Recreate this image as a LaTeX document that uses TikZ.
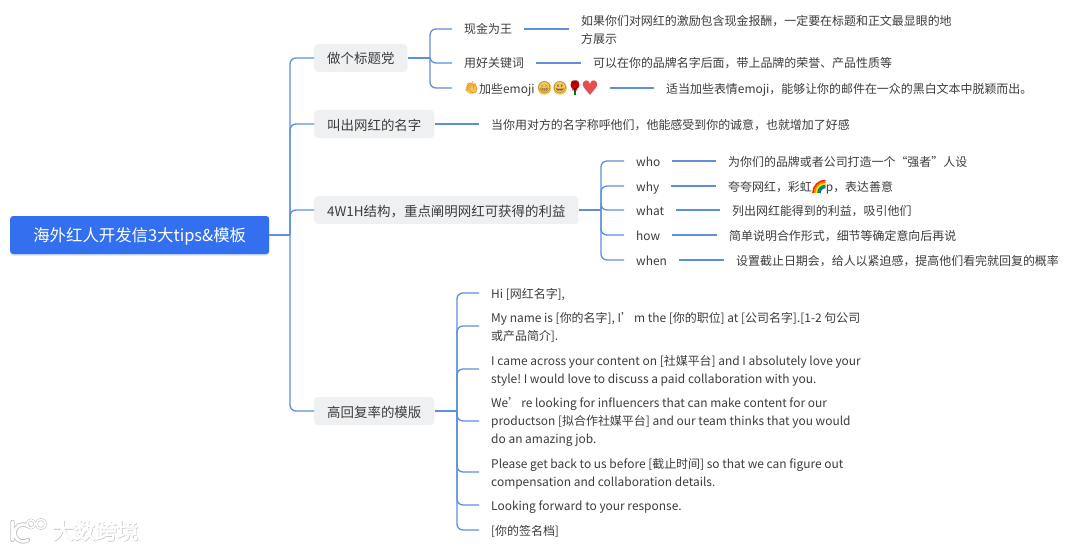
\documentclass[tikz,border=0pt]{standalone}
\usepackage{fontspec}
\setmainfont{Noto Sans CJK SC}
\newfontfamily\emo{Noto Emoji}
\newfontfamily\djv{DejaVu Sans}
\newfontfamily\wmfont[FakeBold=3]{Noto Sans CJK SC}
\usetikzlibrary{shadows}
\definecolor{linec}{HTML}{5F8FDB}
\definecolor{rootc}{HTML}{3370F0}
\definecolor{topicc}{HTML}{EFF0F2}
\definecolor{txt}{HTML}{3C3C3C}
\definecolor{wmg}{HTML}{C4C4C4}
\definecolor{facec}{HTML}{F3C858}
\definecolor{heartc}{HTML}{E4504F}
\newcommand{\toprow}[1]{\rule{0pt}{#1pt}}
\tikzset{
 conn/.style={draw=linec,line width=1.3pt,rounded corners=6pt},
 rootbox/.style={fill=rootc,rounded corners=3pt,text=white,font=\fontsize{16.4}{20}\selectfont,
   minimum width=259pt,minimum height=38pt,inner sep=0pt,anchor=west,
   execute at begin node={\rule[-4pt]{0pt}{21pt}},
   drop shadow={shadow xshift=0pt,shadow yshift=-1.5pt,fill=rootc,opacity=.22}},
 topic/.style={fill=topicc,rounded corners=4pt,text=txt,font=\fontsize{13.45}{17}\selectfont,
   minimum height=28pt,inner xsep=13pt,inner ysep=0pt,anchor=west,
   execute at begin node={\rule[-4pt]{0pt}{20pt}}},
 leaf/.style={text=txt,font=\fontsize{11.95}{18}\selectfont,inner xsep=12pt,inner ysep=0pt,anchor=west,align=left,
   execute at begin node={\frenchspacing\rule[-3.5pt]{0pt}{17pt}}},
 emj/.style={font=\emo\fontsize{11.5}{12}\selectfont,inner sep=0pt},
 wm/.style={inner sep=0pt,text=white,font=\wmfont\fontsize{21.5}{24}\selectfont}
}
\begin{document}
\begin{tikzpicture}[x=1pt,y=-1pt]
\useasboundingbox[fill=white] (0,0) rectangle (1080,551);
% root and topics
\node[rootbox] (root) at (10,235) {海外红人开发信3大tips\&模板};
\node[topic] (t1) at (314,58) {做个标题党};
\node[topic] (t2) at (314,124) {叫出网红的名字};
\node[topic] (t3) at (314,210) {4W1H结构，重点阐明网红可获得的利益};
\node[topic] (t4) at (314,411) {高回复率的模版};
\coordinate (s0) at (290,235);
\draw[conn] (root.east) -- (s0);
\draw[conn] (s0) |- (t1.west);
\draw[conn] (s0) |- (t2.west);
\draw[conn] (s0) |- (t3.west);
\draw[conn] (s0) |- (t4.west);
% branch 1
\node[leaf] (a1) at (452,29) {现金为王};
\node[leaf] (a2) at (452,63) {用好关键词};
\node[leaf] (a3) at (452,88) {\hspace{15pt}加些emoji\hspace{63pt}};
\node[leaf] (b1) at (569,29) {\toprow{14.5}如果你们对网红的激励包含现金报酬，一定要在标题和正文最显眼的地\\方展示};
\node[leaf] (b2) at (581,63) {可以在你的品牌名字后面，带上品牌的荣誉、产品性质等};
\node[leaf] (b3) at (654,88) {适当加些表情emoji，能够让你的邮件在一众的黑白文本中脱颖而出。};
\coordinate (s1) at (430,58);
\draw[conn] (t1.east) -- (s1);
\foreach \n in {a1,a2,a3}{\draw[conn] (s1) |- (\n.west);}
\draw[conn] (a1.east) -- (b1.west);
\draw[conn] (a2.east) -- (b2.west);
\draw[conn] (a3.east) -- (b3.west);
% emoji
\fill[facec] (471.5,88.5) ellipse (6 and 5.5);
\node[emj,text=orange!85!black] (e1) at (471.5,88) {\char"1F44B};
\fill[facec] (544.5,88) circle (6.8);
\node[emj,text=brown!70!black] (e2) at (544.5,88) {\char"1F601};
\fill[facec] (560,88) circle (6.8);
\node[emj,text=brown!70!black] (e3) at (560,88) {\char"1F603};
\fill[red!80!black] (575,85) circle (4.5);
\draw[green!50!black,line width=1.6pt] (575,88) -- (575,95);
\node[emj,text=red!55!black] (e4) at (575,87) {\char"1F339};
\node[inner sep=0pt,text=heartc,font=\djv\fontsize{20}{20}\selectfont] (e5) at (590,88) {♥};
% branch 2
\node[leaf] (c1) at (479,124) {当你用对方的名字称呼他们，他能感受到你的诚意，也就增加了好感};
\draw[conn] (t2.east) -- (c1.west);
% branch 3
\node[leaf] (d1) at (624,161) {who};
\node[leaf] (d2) at (624,186) {why};
\node[leaf] (d3) at (624,210) {what};
\node[leaf] (d4) at (624,235) {how};
\node[leaf] (d5) at (624,260) {when};
\node[leaf] (f1) at (716,161) {为你们的品牌或者公司打造一个“强者”人设};
\node[leaf] (f2) at (716,186) {夸夸网红，彩虹\hspace{14pt}p，表达善意};
\node[leaf] (f3) at (720,210) {列出网红能得到的利益，吸引他们};
\node[leaf] (f4) at (717,235) {简单说明合作形式，细节等确定意向后再说};
\node[leaf] (f5) at (724,260) {设置截止日期会，给人以紧迫感，提高他们看完就回复的概率};
\coordinate (s3) at (601,210);
\draw[conn] (t3.east) -- (s3);
\foreach \n in {d1,d2,d3,d4,d5}{\draw[conn] (s3) |- (\n.west);}
\foreach \n/\m in {d1/f1,d2/f2,d3/f3,d4/f4,d5/f5}{\draw[conn] (\n.east) -- (\m.west);}
% rainbow
\foreach \r/\c in {12.5/red!70!orange,10.8/orange,9.1/yellow!90!orange,7.4/green!60!black,5.7/blue!60!cyan}{
  \draw[\c,line width=1.8pt] (825.5,193) ++(-\r,0) arc[start angle=-180,end angle=-90,radius=\r];
}
% branch 4
\node[leaf] (g1) at (479,293) {Hi [网红名字],};
\node[leaf] (g2) at (479,326) {\toprow{14.5}My name is [你的名字], I’\hspace{1pt}m the [你的职位] at [公司名字].[1-2 句公司\\或产品简介].};
\node[leaf] (g3) at (479,369) {\toprow{14.5}I came across your content on [社媒平台] and I absolutely love your\\style! I would love to discuss a paid collaboration with you.};
\node[leaf] (g4) at (479,421) {\toprow{12.5}We’\hspace{1pt}re looking for influencers that can make content for our\\productson [拟合作社媒平台] and our team thinks that you would\\do an amazing job.};
\node[leaf] (g5) at (479,472) {\toprow{14.5}Please get back to us before [截止时间] so that we can figure out\\compensation and collaboration details.};
\node[leaf] (g6) at (479,505) {Looking forward to your response.};
\node[leaf] (g7) at (479,530) {[你的签名档]};
\coordinate (s4) at (457,411);
\draw[conn] (t4.east) -- (s4);
\foreach \n in {g1,g2,g3,g4,g5,g6,g7}{\draw[conn] (s4) |- (\n.west);}
% watermark
\foreach \w/\c in {4.4/wmg,2.6/white}{
  \draw[\c,line width=\w pt,line cap=round] (12.5,522) -- (12.5,540) (23,533) ++(-55:8.5) arc[start angle=-55,end angle=-305,radius=8.5];
  \draw[\c,line width=\w pt/1.6] (31,524) circle (4) (41,524) circle (4.6);
}
\node[wm,anchor=west] (w) at (52,531) {\rlap{\color{wmg}\raisebox{-.6pt}{\hspace{.6pt}大数跨境}}大数跨境};
\end{tikzpicture}
\end{document}
